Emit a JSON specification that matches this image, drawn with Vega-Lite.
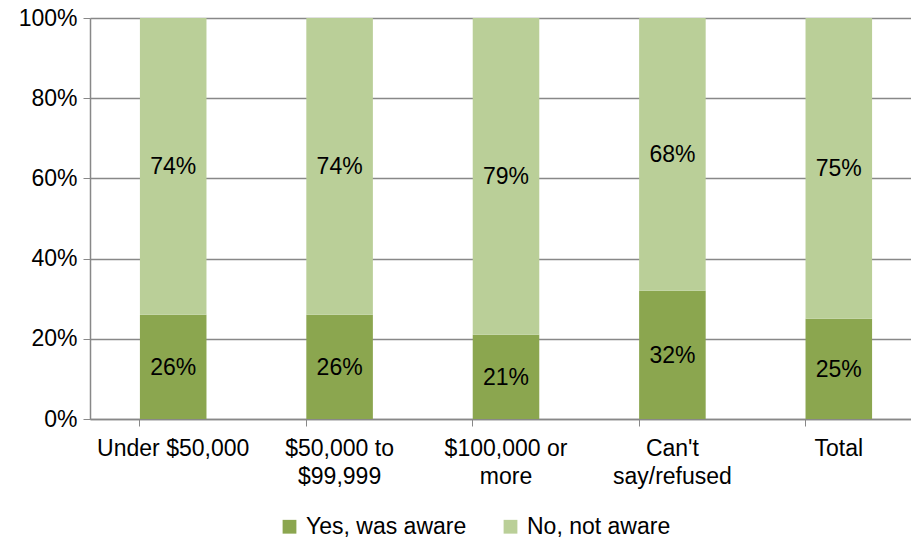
{
  "$schema": "https://vega.github.io/schema/vega-lite/v6.json",
  "width": 832,
  "height": 401,
  "autosize": {"type": "none"},
  "padding": {"left": 90, "top": 18, "right": 0, "bottom": 121},
  "background": "white",
  "config": {
    "view": {"stroke": null},
    "font": "Liberation Sans",
    "axis": {"labelFont": "Liberation Sans", "labelColor": "black", "labelFontSize": 23},
    "legend": {"labelFont": "Liberation Sans", "labelColor": "black", "labelFontSize": 23, "labelLimit": 400}
  },
  "data": {
    "values": [
      {"category": "Under $50,000", "response": "Yes, was aware", "value": 0.26, "label": "26%", "rank": 1},
      {"category": "Under $50,000", "response": "No, not aware", "value": 0.74, "label": "74%", "rank": 2},
      {"category": "$50,000 to $99,999", "response": "Yes, was aware", "value": 0.26, "label": "26%", "rank": 1},
      {"category": "$50,000 to $99,999", "response": "No, not aware", "value": 0.74, "label": "74%", "rank": 2},
      {"category": "$100,000 or more", "response": "Yes, was aware", "value": 0.21, "label": "21%", "rank": 1},
      {"category": "$100,000 or more", "response": "No, not aware", "value": 0.79, "label": "79%", "rank": 2},
      {"category": "Can't say/refused", "response": "Yes, was aware", "value": 0.32, "label": "32%", "rank": 1},
      {"category": "Can't say/refused", "response": "No, not aware", "value": 0.68, "label": "68%", "rank": 2},
      {"category": "Total", "response": "Yes, was aware", "value": 0.25, "label": "25%", "rank": 1},
      {"category": "Total", "response": "No, not aware", "value": 0.75, "label": "75%", "rank": 2}
    ]
  },
  "transform": [
    {"stack": "value", "groupby": ["category"], "sort": [{"field": "rank", "order": "ascending"}], "as": ["v0", "v1"]},
    {"calculate": "(datum.v0 + datum.v1) / 2", "as": "mid"}
  ],
  "encoding": {
    "x": {
      "field": "category",
      "type": "nominal",
      "sort": ["Under $50,000", "$50,000 to $99,999", "$100,000 or more", "Can't say/refused", "Total"],
      "scale": {"paddingInner": 0.6, "paddingOuter": 0.3},
      "axis": {
        "title": null,
        "labelAngle": 0,
        "labelPadding": 11,
        "labelLineHeight": 28,
        "labelBaseline": "top",
        "labelExpr": "datum.value == '$50,000 to $99,999' ? ['$50,000 to', '$99,999'] : datum.value == '$100,000 or more' ? ['$100,000 or', 'more'] : datum.value == \"Can't say/refused\" ? [\"Can't\", 'say/refused'] : datum.value",
        "bandPosition": 0,
        "ticks": true,
        "tickSize": 7,
        "tickColor": "#888888",
        "domainColor": "#888888",
        "domainWidth": 1.5,
        "grid": false
      }
    }
  },
  "layer": [
    {
      "mark": {"type": "bar"},
      "encoding": {
        "y": {
          "field": "v0",
          "type": "quantitative",
          "scale": {"domain": [0, 1]},
          "axis": {
            "title": null,
            "format": "%",
            "values": [0, 0.2, 0.4, 0.6, 0.8, 1],
            "grid": true,
            "gridColor": "#888888",
            "gridWidth": 1.5,
            "domainColor": "#888888",
            "domainWidth": 1.5,
            "tickColor": "#888888",
            "tickSize": 7,
            "labelPadding": 6
          }
        },
        "y2": {"field": "v1"},
        "color": {
          "field": "response",
          "type": "nominal",
          "scale": {"domain": ["Yes, was aware", "No, not aware"], "range": ["#8BA64F", "#BACF98"]},
          "legend": {
            "title": null,
            "orient": "none",
            "direction": "horizontal",
            "legendX": 188,
            "legendY": 497,
            "symbolType": "square",
            "symbolSize": 190,
            "symbolStrokeWidth": 0,
            "columnPadding": 32,
            "labelOffset": 5
          }
        }
      }
    },
    {
      "mark": {"type": "text", "fontSize": 23, "color": "black", "baseline": "middle", "dy": 1},
      "encoding": {
        "y": {"field": "mid", "type": "quantitative"},
        "text": {"field": "label"}
      }
    }
  ]
}
